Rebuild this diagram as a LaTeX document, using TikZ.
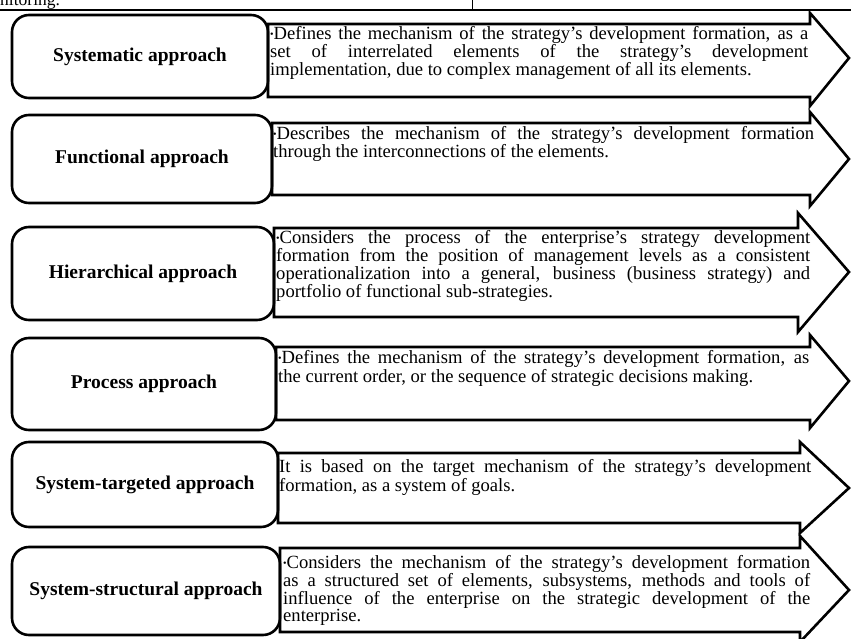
\documentclass[tikz,border=0pt]{standalone}
\usepackage{fontspec}
\setmainfont{Liberation Serif}
\begin{document}
\begin{tikzpicture}[x=1pt,y=-1pt,
  lbl/.style={draw, line width=2.6pt, rounded corners=17pt, align=center, inner sep=0pt,
    font=\fontsize{19.5}{21}\selectfont\bfseries},
  arrowshape/.style={draw, line width=2.6pt, line join=miter, miter limit=10},
  desc/.style={anchor=north west, inner sep=0pt, align=justify},
  rule/.style={line width=1.8pt}
]
\useasboundingbox (0,0) rectangle (851,639);
\newcommand{\bul}{{\fontsize{10}{10}\selectfont\raisebox{1.5pt}{•}}}
\hyphenpenalty=10000
% header
\node[anchor=base west, inner sep=0pt, font=\fontsize{17.5}{17}\selectfont] (hdr) at (0,6) {nitoring.};
\draw[rule] (0,10) -- (851,10);
\draw[line width=0.8pt] (472,0) -- (472,10);

% arrows: L, bt, bb, S, ht, hb, tipy
\newcommand{\arrowbody}[7]{%
  \draw[arrowshape] (#1,#2) -- (#4,#2) -- (#4,#5) -- (849,#7) -- (#4,#6) -- (#4,#3) -- (#1,#3) -- cycle;}
\arrowbody{268}{24}{97}{810}{13}{106}{58}
\arrowbody{272}{123}{195}{810}{112}{206}{159}
\arrowbody{274}{228}{317}{798}{213}{332}{272}
\arrowbody{276}{347}{420}{810}{335}{428}{381}
\arrowbody{278}{453}{523}{800}{442}{533}{488}
\arrowbody{280}{548}{632}{800}{536}{642}{590}

% label boxes
\node[lbl, minimum width=256pt, minimum height=83pt] (b1) at (140,56.5) {Systematic approach};
\node[lbl, minimum width=260pt, minimum height=88pt] (b2) at (142,159) {Functional approach};
\node[lbl, minimum width=262pt, minimum height=93pt] (b3) at (143,273.5) {Hierarchical approach};
\node[lbl, minimum width=264pt, minimum height=92pt] (b4) at (144,384) {Process approach};
\node[lbl, minimum width=266pt, minimum height=85pt] (b5) at (145,484.5) {System-targeted approach};
\node[lbl, minimum width=268pt, minimum height=88pt] (b6) at (146,591) {System-structural approach};

% descriptions
\node[desc, text width=538pt, font=\fontsize{18.6}{17}\selectfont] (d1) at (270,26)
 {\bul Defines the mechanism of the strategy’s development formation, as a\linebreak
  set of interrelated elements of the strategy’s development\linebreak
  implementation, due to complex management of all its elements.};
\node[desc, text width=541pt, font=\fontsize{18.6}{17}\selectfont] (d2) at (273,126)
 {\bul Describes the mechanism of the strategy’s development formation\linebreak
  through the interconnections of the elements.};
\node[desc, text width=534pt, font=\fontsize{18.6}{16.5}\selectfont] (d3) at (276,230)
 {\bul Considers the process of the enterprise’s strategy development\linebreak
  formation from the position of management levels as a consistent\linebreak
  operationalization into a general, business (business strategy) and\linebreak
  portfolio of functional sub-strategies.};
\node[desc, text width=531pt, font=\fontsize{18.6}{19.5}\selectfont] (d4) at (278,350)
 {\bul Defines the mechanism of the strategy’s development formation, as\linebreak
  the current order, or the sequence of strategic decisions making.};
\node[desc, text width=532pt, font=\fontsize{18.6}{19.5}\selectfont] (d5) at (279,459)
 {It is based on the target mechanism of the strategy’s development\linebreak
  formation, as a system of goals.};
\node[desc, text width=527pt, font=\fontsize{18.6}{16.3}\selectfont] (d6) at (283,555)
 {\bul Considers the mechanism of the strategy’s development formation\linebreak
  as a structured set of elements, subsystems, methods and tools of\linebreak
  influence of the enterprise on the strategic development of the\linebreak
  enterprise.};
\end{tikzpicture}
\end{document}
